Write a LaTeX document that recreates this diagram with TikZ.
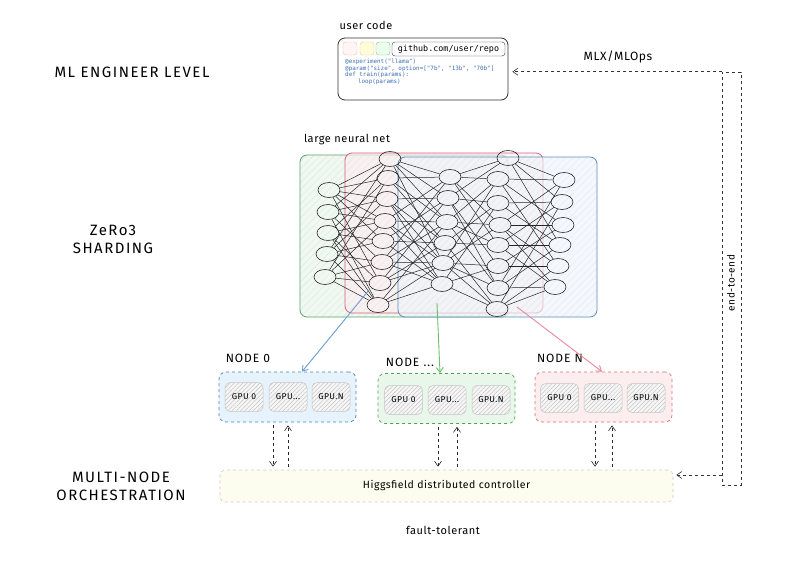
\documentclass[tikz,border=0pt]{standalone}
\usepackage{fontspec}
\setmainfont{Fira Sans}[LetterSpace=5]
\setmonofont{DejaVu Sans Mono}
\usetikzlibrary{arrows.meta,patterns.meta,calc,shapes.geometric}
\definecolor{ngd}{HTML}{5AA469}\definecolor{ngf}{HTML}{F0F8F1}
\definecolor{nrd}{HTML}{D9607A}\definecolor{nrf}{HTML}{FCEFF2}
\definecolor{nbd}{HTML}{5B8FC2}\definecolor{nbf}{HTML}{EEF4FA}
\definecolor{bx0d}{HTML}{4A86C0}\definecolor{bx0f}{HTML}{E6F3FC}
\definecolor{bx1d}{HTML}{4CA455}\definecolor{bx1f}{HTML}{E9F6EA}
\definecolor{bx2d}{HTML}{D9707A}\definecolor{bx2f}{HTML}{FCEDEE}
\definecolor{arb}{HTML}{6A9FD4}\definecolor{arg}{HTML}{6CBF6C}\definecolor{arr}{HTML}{E58A9A}
\definecolor{codeblue}{HTML}{3D6FB5}
\definecolor{ctrlf}{HTML}{FCFCEF}
\begin{document}
\begin{tikzpicture}[x=1pt,y=-1pt,
  lbl/.style={font=\fontsize{11}{13}\selectfont, inner sep=0pt},
  biglbl/.style={font=\fontsize{15}{18}\selectfont\addfontfeatures{LetterSpace=10}, align=center, inner sep=0pt},
  nodelbl/.style={font=\fontsize{12}{14}\selectfont\addfontfeatures{LetterSpace=8}, inner sep=0pt},
  nn/.style={ellipse, draw=black!85, line width=0.6pt, minimum width=22pt, minimum height=15pt, inner sep=0pt},
  edge/.style={draw=black!85, line width=0.5pt},
  shard/.style={rounded corners=7pt, line width=0.8pt},
  nodebox/.style={rounded corners=7pt, dashed, line width=0.7pt, minimum width=137pt, minimum height=50pt},
  gpubox/.style={rounded corners=5pt, draw=gray!45, line width=0.5pt, minimum width=38pt, minimum height=29pt,
     preaction={fill=gray!8}, pattern={Lines[angle=45,distance=3pt,line width=0.35pt]}, pattern color=gray!55,
     font=\fontsize{8.5}{10}\selectfont, inner sep=0pt},
  tip/.style={-{Straight Barb[length=5pt,width=7pt]}},
  darr/.style={tip, dashed, draw=black!85, line width=0.6pt, shorten >=3pt, shorten <=3pt}]
\path[use as bounding box, fill=white] (0,0) rectangle (800,575);

% left labels
\node[biglbl] (lv1) at (132,72) {ML ENGINEER LEVEL};
\node[biglbl] (lv2) at (113,239) {ZeRo3\\SHARDING};
\node[biglbl] (lv3) at (121,486) {MULTI-NODE\\ORCHESTRATION};

% user code
\node[lbl] (uclbl) at (366,25) {user code};
\node[draw=black!80, line width=0.8pt, rounded corners=7pt, minimum width=170pt, minimum height=62pt] (uc) at (423,69) {};
\node[draw=pink!70!red!60, fill=pink!15, rounded corners=3pt, minimum width=14pt, minimum height=13pt, inner sep=0pt] (sq1) at (350,48.5) {};
\node[draw=orange!50, fill=yellow!15, rounded corners=3pt, minimum width=14pt, minimum height=13pt, inner sep=0pt] (sq2) at (367,48.5) {};
\node[draw=green!50!black!50, fill=green!8, rounded corners=3pt, minimum width=14pt, minimum height=13pt, inner sep=0pt] (sq3) at (383,48.5) {};
\node[draw=black!80, rounded corners=3pt, minimum width=113pt, minimum height=14pt, inner sep=0pt,
  font=\ttfamily\fontsize{8.4}{10}\selectfont] (gh) at (448.5,49) {github.com/user/repo};
\node[anchor=north west, align=left, inner sep=0pt, text=codeblue,
  font=\ttfamily\fontsize{5.9}{6.5}\selectfont] (code) at (345,59)
  {@experiment("llama")\\@param("size", option=["7b", "13b", "70b"]\\def train(params):\\\hspace*{4ex}loop(params)};

% neural net shard boxes
\draw[shard, draw=ngd, preaction={fill=ngf}, pattern={Lines[angle=45,distance=5pt,line width=0.3pt]}, pattern color=ngd!25] (300,155) rectangle (508,317);
\draw[shard, draw=nrd, preaction={fill=nrf,fill opacity=0.6}, pattern={Lines[angle=45,distance=5pt,line width=0.3pt]}, pattern color=nrd!20] (345,153) rectangle (543,313);
\draw[shard, draw=nbd, preaction={fill=nbf,fill opacity=0.6}, pattern={Lines[angle=45,distance=5pt,line width=0.3pt]}, pattern color=nbd!20] (398,157) rectangle (597,317);
\node[lbl] (nnlbl) at (347,140) {large neural net};

% neurons
\foreach \i/\x/\y in {1/329/190,2/328/212,3/328/233,4/327/254,5/325/277}
  \node[nn] (a\i) at (\x,\y) {};
\foreach \i/\x/\y in {1/390/159,2/388/178,3/387/199,4/385/221,5/383/241,6/382/262,7/380/283,8/378/305}
  \node[nn] (b\i) at (\x,\y) {};
\foreach \i/\x/\y in {1/450/177,2/448/198,3/447/222,4/445/243,5/443/263,6/442/284}
  \node[nn] (c\i) at (\x,\y) {};
\foreach \i/\x/\y in {1/508/158,2/498/179,3/498/203,4/500/225,5/498/245,6/498/266,7/498/288,8/497/309}
  \node[nn] (d\i) at (\x,\y) {};
\foreach \i/\x/\y in {1/564/180,2/562/202,3/563/225,4/560/245,5/558/266,6/555/287}
  \node[nn] (e\i) at (\x,\y) {};

% sparse connections
\foreach \s/\tl in {1/{1,2,3,4,5,7}, 2/{1,3,4,6,8}, 3/{2,4,5,7,8}, 4/{1,3,5,6,8}, 5/{2,4,6,7,8}}
  \foreach \t in \tl \draw[edge] (a\s) -- (b\t);
\foreach \s/\tl in {1/{1,2,3,5}, 2/{1,3,4}, 3/{2,4,5,6}, 4/{1,3,5,6}, 5/{2,4,6}, 6/{1,3,5,6}, 7/{2,4,5}, 8/{3,5,6}}
  \foreach \t in \tl \draw[edge] (b\s) -- (c\t);
\foreach \s/\tl in {1/{1,2,4,5}, 2/{1,3,6,7}, 3/{2,4,5,7}, 4/{3,5,8}, 5/{2,4,6,7,8}, 6/{3,6,8}}
  \foreach \t in \tl \draw[edge] (c\s) -- (d\t);
\foreach \s/\tl in {1/{1,2,4}, 2/{1,3,5}, 3/{2,4}, 4/{1,3,5,6}, 5/{2,4,6}, 6/{3,5}, 7/{1,4,6}, 8/{2,5,6}}
  \foreach \t in \tl \draw[edge] (d\s) -- (e\t);

% compute nodes
\node[nodebox, draw=bx0d, fill=bx0f] (n0) at (287.5,397) {};
\node[nodebox, draw=bx1d, fill=bx1f] (n1) at (446.5,398.5) {};
\node[nodebox, draw=bx2d, fill=bx2f] (n2) at (603.5,397) {};
\node[nodelbl] (n0lbl) at (248,358) {NODE 0};
\node[nodelbl] (n1lbl) at (410,362) {NODE ...};
\node[nodelbl] (n2lbl) at (560,358) {NODE N};
\foreach \n/\x/\y in {0/244/397, 1/403.5/400, 2/559.5/398} \node[gpubox] (g\n a) at (\x,\y) {GPU 0};
\foreach \n/\x/\y in {0/288/397, 1/447/400, 2/603/398} \node[gpubox] (g\n b) at (\x,\y) {GPU...};
\foreach \n/\x/\y in {0/331/397, 1/491/400, 2/646/398} \node[gpubox] (g\n c) at (\x,\y) {GPU.N};

% shard arrows
\coordinate (sb) at (369,290);
\coordinate (sg) at (437,303);
\coordinate (sr) at (517,307);
\draw[tip, draw=arb, line width=0.9pt] (sb) -- ([xshift=14.5pt]n0.north);
\draw[tip, draw=arg, line width=0.9pt] (sg) -- ([xshift=-6.5pt]n1.north);
\draw[tip, draw=arr, line width=0.9pt] (sr) -- ([xshift=-1.5pt]n2.north);

% controller
\node[rounded corners=5pt, dashed, draw=gray!40, fill=ctrlf, line width=0.6pt, minimum width=453pt, minimum height=32pt,
  font=\fontsize{10.5}{12}\selectfont] (ctrl) at (446.5,486) {Higgsfield distributed controller};
\node[lbl] (ft) at (443,530) {fault-tolerant};

% node <-> controller
\draw[darr] ([xshift=-14.5pt]n0.south) -- ([xshift=-14.5pt]n0.south |- ctrl.north);
\draw[darr] ([xshift=0.5pt]n0.south |- ctrl.north) -- ([xshift=0.5pt]n0.south);
\draw[darr] ([xshift=-8.5pt]n1.south) -- ([xshift=-8.5pt]n1.south |- ctrl.north);
\draw[darr] ([xshift=10.5pt]n1.south |- ctrl.north) -- ([xshift=10.5pt]n1.south);
\draw[darr] ([xshift=-8.5pt]n2.south) -- ([xshift=-8.5pt]n2.south |- ctrl.north);
\draw[darr] ([xshift=8.5pt]n2.south |- ctrl.north) -- ([xshift=8.5pt]n2.south);

% end-to-end loop
\node[draw=black!80, dashed, line width=0.6pt, minimum width=19pt, minimum height=413pt, inner sep=0pt] (e2e) at (731.5,278.5) {};
\node[lbl, rotate=90, font=\fontsize{10}{12}\selectfont] (e2elbl) at (731,283) {end-to-end};
\coordinate (e2etop) at (e2e.north west);
\coordinate (e2ebot) at (722,475);
\draw[tip, dashed, draw=black!80, line width=0.6pt, shorten >=4pt] (e2etop) -- (e2etop -| uc.east);
\draw[tip, dashed, draw=black!80, line width=0.6pt, shorten >=3pt] (e2ebot) -- (e2ebot -| ctrl.east);
\node[lbl, font=\fontsize{12}{14}\selectfont] (mlops) at (618,57) {MLX/MLOps};
\end{tikzpicture}
\end{document}
